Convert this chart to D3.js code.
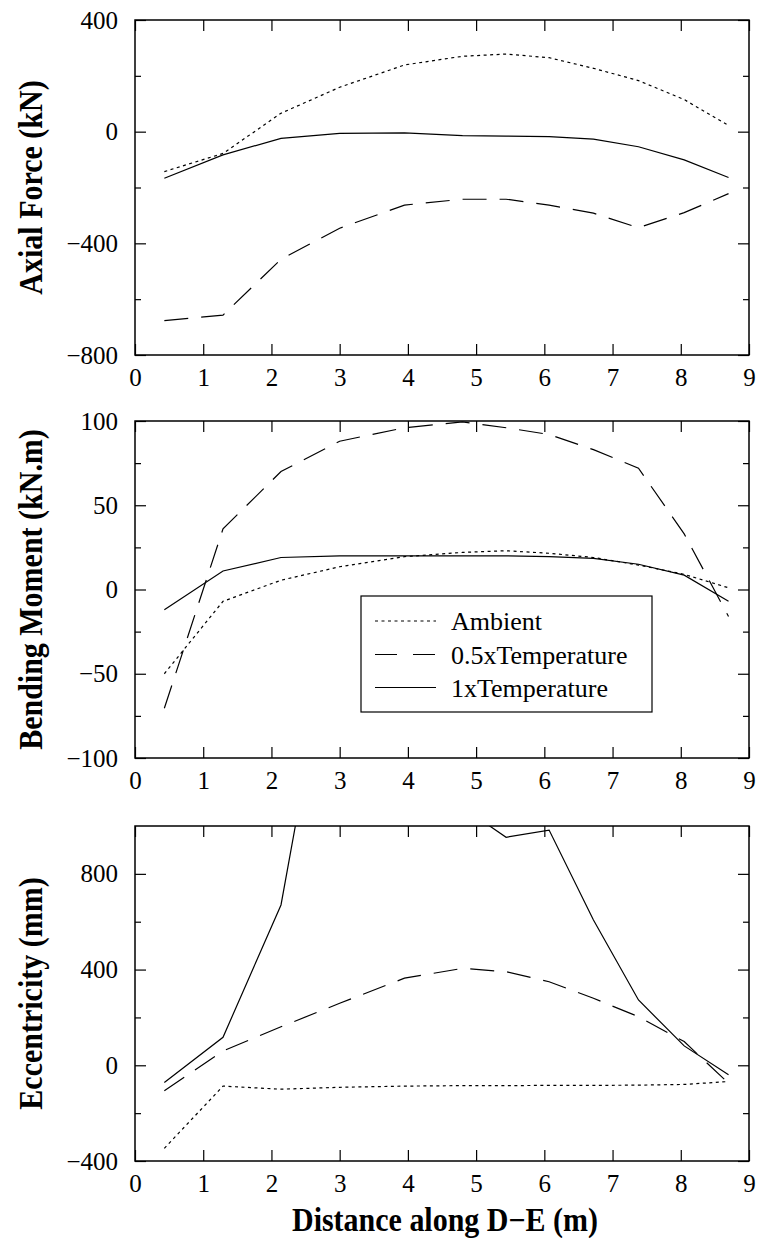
<!DOCTYPE html>
<html>
<head>
<meta charset="utf-8">
<script src="https://cdn.jsdelivr.net/npm/d3@7"></script>
<style>
  html, body { margin: 0; padding: 0; background: #fff; }
  svg { display: block; }
  text { font-family: "Liberation Serif", "Times New Roman", serif; fill: #000; }
</style>
</head>
<body>
<svg id="chart" width="761" height="1238"></svg>
<script>
// ---------- data ----------
const distance = [0.43, 1.29, 2.14, 3.0, 3.95, 4.8, 5.44, 6.07, 6.72, 7.38, 8.05, 8.7];

const seriesNames = ["Ambient", "0.5xTemperature", "1xTemperature"];

const axialAmbient = [-143, -78, 66, 159, 239, 270, 278, 265, 227, 183, 115, 22];
const axialHalf    = [-677, -657, -457, -346, -263, -242, -242, -263, -292, -344, -290, -222];
const axialFull    = [-167, -83, -24, -6, -4, -14, -16, -18, -27, -54, -101, -164];

const momentAmbient = [-50, -7, 5.5, 13.5, 19.5, 22, 23, 21.5, 19, 14.5, 9, 1];
const momentHalf    = [-70.5, 36, 70, 88, 96, 99.5, 96, 92, 83, 72, 33, -16];
const momentFull    = [-12, 11, 19, 20, 20, 20, 20, 19.5, 18.5, 15, 8.5, -7];

const eccAmbient = [-347, -87, -100, -92, -87, -85, -85, -84, -84, -83, -80, -68];
const eccHalf    = [-106, 60, 161, 259, 364, 405, 391, 349, 280, 203, 99, -75];
const eccFull    = [-72, 117, 670, 2020, 1500, 1078, 953, 983, 607, 273, 81, -40];

const xTicks = [0, 1, 2, 3, 4, 5, 6, 7, 8, 9];
const axialMajor = [-800, -400, 0, 400];
const axialMinor = [-600, -200, 200];
const momentMajor = [-100, -50, 0, 50, 100];
const momentMinor = [-75, -25, 25, 75];
const eccMajor = [-400, 0, 400, 800];
const eccMinor = [-200, 200, 600];

const xTitle = "Distance along D\u2212E (m)";

// ---------- layout ----------
const svg = d3.select("#chart");
const left = 135, right = 749;
const x = d3.scaleLinear().domain([0, 9]).range([left, right]);

const dashStyles = ["3,3.5", "24,13", null];

const panels = [
  { top: 20,  bottom: 355,  domain: [-800, 400], major: axialMajor, minor: axialMinor,
    title: "Axial Force (kN)", series: [axialAmbient, axialHalf, axialFull] },
  { top: 421, bottom: 758,  domain: [-100, 100], major: momentMajor, minor: momentMinor,
    title: "Bending Moment (kN.m)", series: [momentAmbient, momentHalf, momentFull], legend: true },
  { top: 826, bottom: 1161, domain: [-400, 1000], major: eccMajor, minor: eccMinor,
    title: "Eccentricity (mm)", series: [eccAmbient, eccHalf, eccFull], xtitle: true }
];

const majorLen = 11, minorLen = 6;
const tickFont = "25px";

panels.forEach((p, i) => {
  const y = d3.scaleLinear().domain(p.domain).range([p.bottom, p.top]);
  const g = svg.append("g");

  // clip
  const clipId = "clip" + i;
  svg.append("clipPath").attr("id", clipId)
    .append("rect").attr("x", left).attr("y", p.top)
    .attr("width", right - left).attr("height", p.bottom - p.top);

  // lines
  const line = d3.line().x((d, j) => x(distance[j])).y(d => y(d));
  const lg = g.append("g").attr("clip-path", `url(#${clipId})`);
  p.series.forEach((s, k) => {
    const path = lg.append("path").datum(s)
      .attr("d", line)
      .attr("fill", "none")
      .attr("stroke", "#000")
      .attr("stroke-width", 1.2)
      .attr("stroke-linejoin", "miter");
    if (dashStyles[k]) path.attr("stroke-dasharray", dashStyles[k]);
  });

  // axes (D3 axes with inward ticks)
  const fmt = d => d3.format("d")(d).replace("-", "\u2212");
  const yLeftMajor = d3.axisLeft(y).tickValues(p.major).tickSize(-majorLen).tickPadding(17).tickFormat(fmt);
  const yLeftMinor = d3.axisLeft(y).tickValues(p.minor).tickSize(-minorLen).tickFormat("");
  const yRightMajor = d3.axisRight(y).tickValues(p.major).tickSize(-majorLen).tickFormat("");
  const yRightMinor = d3.axisRight(y).tickValues(p.minor).tickSize(-minorLen).tickFormat("");
  const xBottom = d3.axisBottom(x).tickValues(xTicks).tickSize(-majorLen).tickPadding(13).tickFormat(fmt);
  const xTop = d3.axisTop(x).tickValues(xTicks).tickSize(-majorLen).tickFormat("");

  const axes = [
    [yLeftMajor, `translate(${left},0)`],
    [yLeftMinor, `translate(${left},0)`],
    [yRightMajor, `translate(${right},0)`],
    [yRightMinor, `translate(${right},0)`],
    [xBottom, `translate(0,${p.bottom})`],
    [xTop, `translate(0,${p.top})`]
  ];
  axes.forEach(([ax, tr]) => {
    const a = g.append("g").attr("transform", tr).call(ax);
    a.select(".domain").remove();
    a.selectAll(".tick line").attr("stroke", "#000").attr("stroke-width", 1.2);
    a.selectAll(".tick text")
      .style("font-family", '"Liberation Serif", "Times New Roman", serif')
      .style("font-size", tickFont).attr("fill", "#000");
  });

  // frame
  g.append("rect").attr("x", left).attr("y", p.top)
    .attr("width", right - left).attr("height", p.bottom - p.top)
    .attr("fill", "none").attr("stroke", "#000").attr("stroke-width", 1.5);

  // y title
  const cy = (p.top + p.bottom) / 2;
  g.append("text")
    .attr("transform", `translate(42,${cy}) rotate(-90) scale(1,1.15)`)
    .attr("text-anchor", "middle")
    .style("font-size", "30px").style("font-weight", "bold")
    .text(p.title);

  if (p.xtitle) {
    g.append("text")
      .attr("transform", `translate(${(left + right) / 2 + 3},${p.bottom + 70}) scale(1,1.1)`)
      .attr("text-anchor", "middle")
      .style("font-size", "30px").style("font-weight", "bold")
      .text(xTitle);
  }

  if (p.legend) {
    const lgd = g.append("g");
    lgd.append("rect").attr("x", 361).attr("y", 596).attr("width", 291).attr("height", 116)
      .attr("fill", "#fff").attr("stroke", "#000").attr("stroke-width", 1.2);
    const rowY = [621, 654.5, 687.5];
    seriesNames.forEach((name, k) => {
      const l = lgd.append("line").attr("x1", 375).attr("x2", 436)
        .attr("y1", rowY[k]).attr("y2", rowY[k])
        .attr("stroke", "#000").attr("stroke-width", 1.2);
      if (dashStyles[k]) l.attr("stroke-dasharray", k === 1 ? "22,16" : dashStyles[k]);
      lgd.append("text").attr("x", 451).attr("y", rowY[k] + 9)
        .style("font-size", "26px").text(name);
    });
  }
});
</script>
</body>
</html>
